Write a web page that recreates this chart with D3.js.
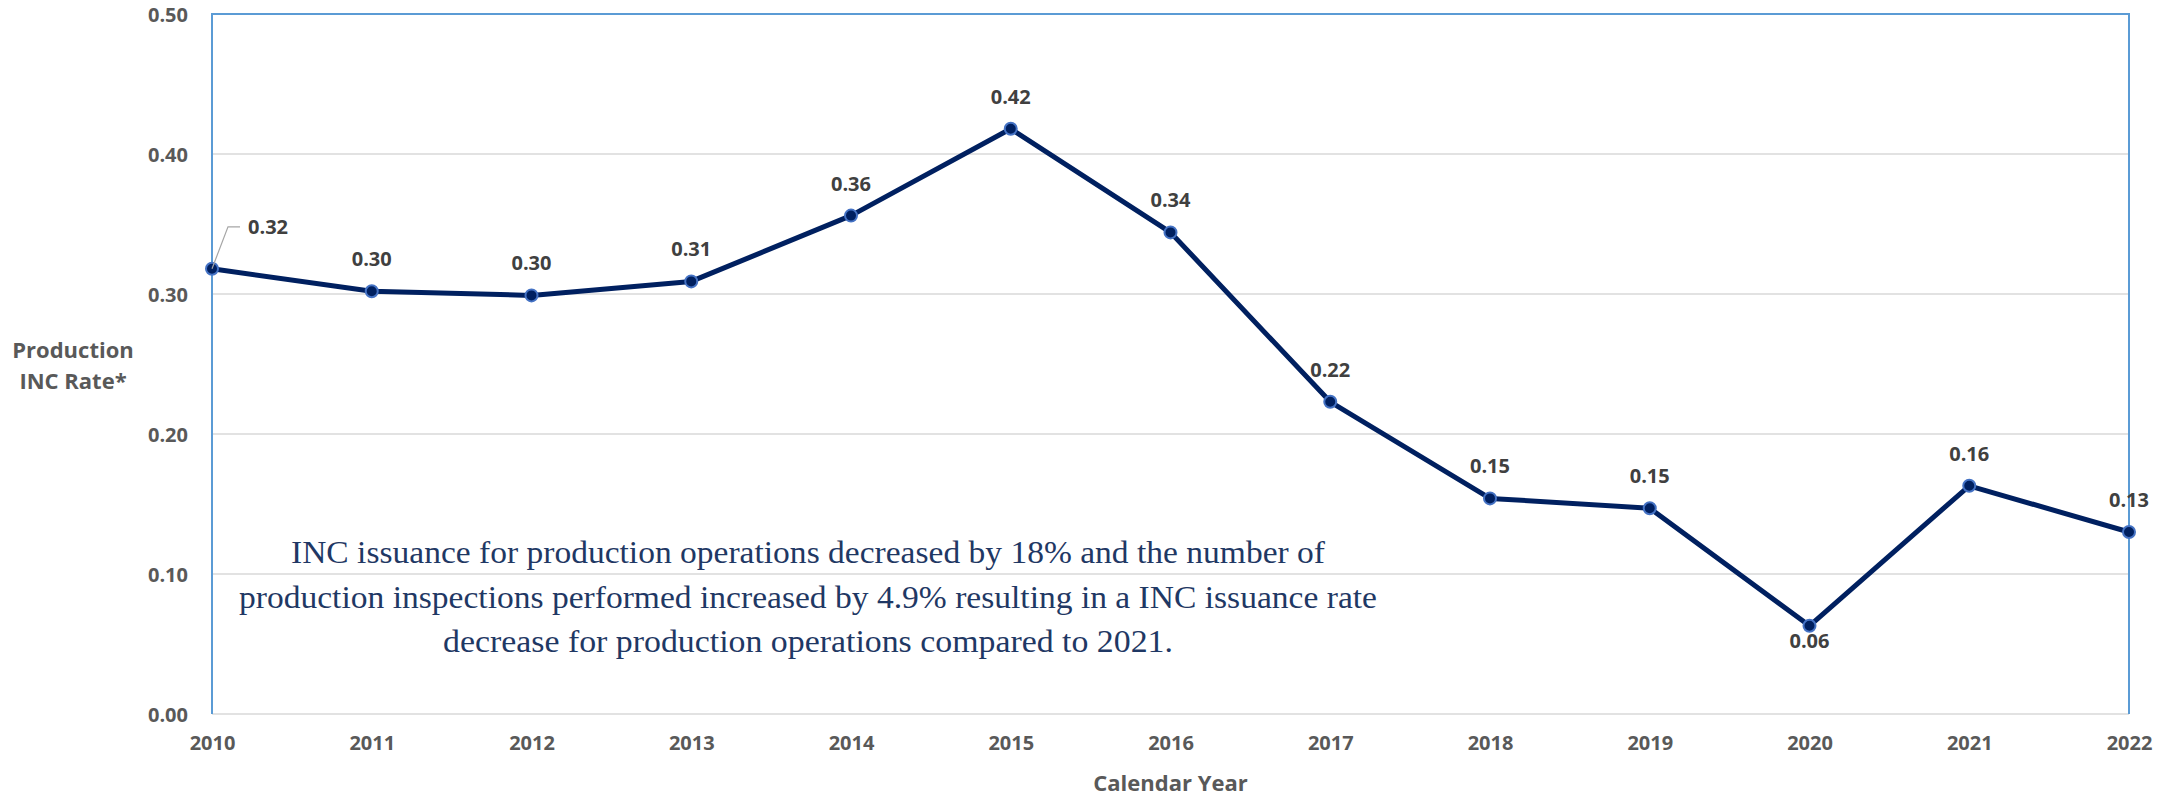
<!DOCTYPE html>
<html>
<head>
<meta charset="utf-8">
<script src="https://cdn.jsdelivr.net/npm/d3@7"></script>
<style>
  body { margin: 0; background: #fff; }
  svg { display: block; }
</style>
</head>
<body>
<svg id="chart"></svg>
<script>
let W = 2164
let H = 797

let years = [2010, 2011, 2012, 2013, 2014, 2015, 2016, 2017, 2018, 2019, 2020, 2021, 2022]
let rates = [0.318, 0.302, 0.299, 0.309, 0.356, 0.418, 0.344, 0.223, 0.154, 0.147, 0.063, 0.163, 0.130]
let yTicks = [0, 0.1, 0.2, 0.3, 0.4, 0.5]
let yTitle = ["Production", "INC Rate*"]
let xTitle = "Calendar Year"
let note = [
  "INC issuance for production operations decreased by 18% and the number of",
  "production inspections performed increased by 4.9% resulting in a INC issuance rate",
  "decrease for production operations compared to 2021."
]

let svg = d3.select("#chart")
    .attr("width", W)
    .attr("height", H)

let x = d3.scaleLinear().domain([2010, 2022]).range([212, 2129])
let y = d3.scaleLinear().domain([0, 0.5]).range([714, 14])

let sans = "'Open Sans', 'Liberation Sans', sans-serif"

// gridlines
svg.append("g")
    .selectAll("line")
    .data(yTicks)
    .enter()
    .append("line")
    .attr("x1", x(2010))
    .attr("x2", x(2022))
    .attr("y1", d => y(d))
    .attr("y2", d => y(d))
    .attr("stroke", "#d9d9d9")
    .attr("stroke-width", 1.5)

// blue frame on left, top, right
svg.append("path")
    .attr("d", `M${x(2010)},${y(0)}V${y(0.5)}H${x(2022)}V${y(0)}`)
    .attr("fill", "none")
    .attr("stroke", "#5b9bd5")
    .attr("stroke-width", 2)

// y axis labels
let yAxis = d3.axisLeft(y).tickValues(yTicks).tickFormat(d3.format(".2f")).tickSize(0).tickPadding(24)
let yg = svg.append("g").attr("transform", `translate(${x(2010)},0)`).call(yAxis)
yg.select(".domain").remove()
yg.selectAll("text")
    .attr("font-family", sans)
    .attr("font-size", 20)
    .attr("font-weight", "bold")
    .attr("fill", "#595959")
    .attr("dy", "0.38em")

// x axis labels
let xAxis = d3.axisBottom(x).tickValues(years).tickFormat(d3.format("d")).tickSize(0).tickPadding(24)
let xg = svg.append("g").attr("transform", `translate(0,${y(0)})`).call(xAxis)
xg.select(".domain").remove()
xg.selectAll("text")
    .attr("font-family", sans)
    .attr("font-size", 20)
    .attr("font-weight", "bold")
    .attr("fill", "#595959")
    .attr("dy", "0.6em")

svg.append("text")
    .attr("x", (x(2010) + x(2022)) / 2)
    .attr("y", 791)
    .attr("text-anchor", "middle")
    .attr("font-family", sans)
    .attr("font-size", 22)
    .attr("font-weight", "bold")
    .attr("fill", "#595959")
    .text(xTitle)

svg.append("g")
    .selectAll("text")
    .data(yTitle)
    .enter()
    .append("text")
    .attr("x", 73)
    .attr("y", (d, i) => 358 + i * 31)
    .attr("text-anchor", "middle")
    .attr("font-family", sans)
    .attr("font-size", 22)
    .attr("font-weight", "bold")
    .attr("fill", "#595959")
    .text(d => d)

// annotation
let noteWidths = [1034, 1138, 730]
svg.append("g")
    .selectAll("text")
    .data(note)
    .enter()
    .append("text")
    .attr("x", 808)
    .attr("y", (d, i) => 563 + i * 44.5)
    .attr("text-anchor", "middle")
    .attr("font-family", "'Liberation Serif', 'DejaVu Serif', serif")
    .attr("font-size", 32)
    .attr("fill", "#1f3864")
    .attr("textLength", (d, i) => noteWidths[i])
    .attr("lengthAdjust", "spacingAndGlyphs")
    .text(d => d)

// line
let pts = years.map((yr, i) => ({ year: yr, v: rates[i] }))
let line = d3.line().x(d => x(d.year)).y(d => y(d.v))

svg.append("path")
    .datum(pts)
    .attr("d", line)
    .attr("fill", "none")
    .attr("stroke", "#002060")
    .attr("stroke-width", 5)
    .attr("stroke-linejoin", "round")

svg.append("g")
    .selectAll("circle")
    .data(pts)
    .enter()
    .append("circle")
    .attr("cx", d => x(d.year))
    .attr("cy", d => y(d.v))
    .attr("r", 6)
    .attr("fill", "#002060")
    .attr("stroke", "#4472c4")
    .attr("stroke-width", 2)

// leader for first label
let p0 = pts[0]
svg.append("path")
    .attr("d", `M${x(p0.year)},${y(p0.v)}L${x(p0.year) + 16},${y(p0.v) - 42}H${x(p0.year) + 28}`)
    .attr("fill", "none")
    .attr("stroke", "#a6a6a6")
    .attr("stroke-width", 1.2)

// data labels
svg.append("g")
    .selectAll("text")
    .data(pts)
    .enter()
    .append("text")
    .attr("x", (d, i) => i == 0 ? x(d.year) + 36 : x(d.year))
    .attr("y", (d, i) => {
        if (i == 0) return y(d.v) - 35
        if (d.year == 2020) return y(d.v) + 22
        return y(d.v) - 25
    })
    .attr("text-anchor", (d, i) => i == 0 ? "start" : "middle")
    .attr("font-family", sans)
    .attr("font-size", 20)
    .attr("font-weight", "bold")
    .attr("fill", "#404040")
    .text(d => d.v.toFixed(2))
</script>
</body>
</html>
